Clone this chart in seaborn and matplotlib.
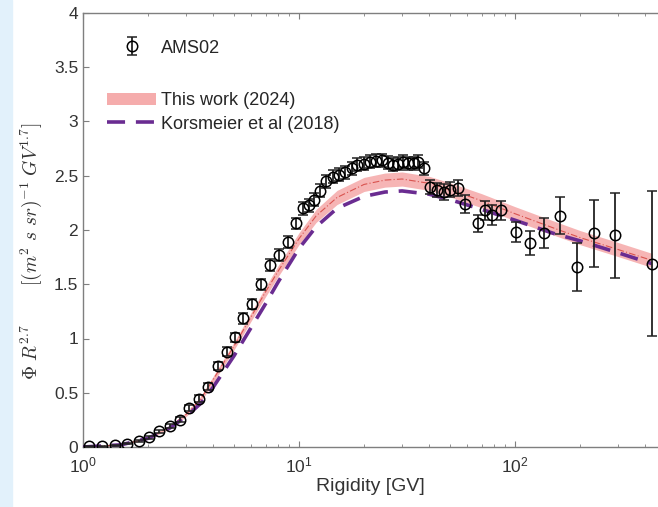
import numpy as np
import matplotlib
matplotlib.use('Agg')
import matplotlib.pyplot as plt
import matplotlib.patches as mpatches
from matplotlib.lines import Line2D
import seaborn as sns
import pandas as pd

# ── AMS02 data points ────────────────────────────────────────────────
ams_rigidity = [1.066, 1.224, 1.406, 1.598, 1.807, 2.02, 2.26, 2.52, 2.80, 3.10,
                3.43, 3.79, 4.20, 4.62, 5.08, 5.53, 6.06, 6.67, 7.34, 8.04,
                8.85, 9.68, 10.44, 11.12, 11.73, 12.5, 13.4, 14.4, 15.3, 16.4,
                17.5, 18.6, 19.9, 21.3, 22.7, 24.2, 25.7, 27.1, 28.6, 30.3,
                32.0, 33.9, 35.7, 37.9, 40.6, 43.5, 46.7, 50.0, 54.5, 58.7,
                67.4, 72.6, 78.3, 86.1, 101, 117, 136, 161, 194, 232,
                290, 431]
ams_flux = [0.005, 0.005, 0.014, 0.032, 0.055, 0.088, 0.143, 0.19, 0.253, 0.36,
            0.447, 0.556, 0.747, 0.88, 1.01, 1.186, 1.318, 1.50, 1.68, 1.77,
            1.89, 2.06, 2.20, 2.23, 2.28, 2.36, 2.45, 2.49, 2.51, 2.53,
            2.57, 2.60, 2.61, 2.63, 2.64, 2.645, 2.62, 2.60, 2.61, 2.63,
            2.615, 2.615, 2.63, 2.57, 2.40, 2.37, 2.35, 2.37, 2.39, 2.24,
            2.06, 2.18, 2.14, 2.18, 1.98, 1.88, 1.97, 2.13, 1.66, 1.97,
            1.95, 1.69]
ams_err = [0.006, 0.006, 0.006, 0.008, 0.01, 0.012, 0.015, 0.018, 0.02, 0.025,
           0.03, 0.035, 0.04, 0.045, 0.045, 0.05, 0.05, 0.05, 0.055, 0.055,
           0.055, 0.055, 0.06, 0.06, 0.06, 0.06, 0.06, 0.06, 0.06, 0.06,
           0.06, 0.06, 0.06, 0.06, 0.06, 0.06, 0.06, 0.06, 0.06, 0.06,
           0.06, 0.06, 0.06, 0.06, 0.065, 0.065, 0.07, 0.07, 0.075, 0.08,
           0.08, 0.085, 0.09, 0.09, 0.095, 0.11, 0.14, 0.17, 0.22, 0.31,
           0.39, 0.67]

# ── Model curves ──────────────────────────────────────────────────────
model_rigidity = [1.0, 1.5, 2.0, 2.5, 3.0, 3.5, 4.0, 5.0, 6.0, 7.0, 8.0, 10.0,
                  12.0, 15.0, 20.0, 25.0, 30.0, 40.0, 50.0, 70.0, 100.0, 150.0,
                  200.0, 300.0, 430.0]
this_work = [0.0, 0.02, 0.08, 0.18, 0.30, 0.44, 0.62, 0.93, 1.20, 1.43, 1.62, 1.92,
             2.13, 2.30, 2.42, 2.46, 2.47, 2.43, 2.37, 2.27, 2.15, 2.02,
             1.93, 1.82, 1.72]
this_work_halfwidth = [0.0, 0.005, 0.01, 0.015, 0.02, 0.025, 0.03, 0.035, 0.04, 0.045, 0.05,
                       0.055, 0.06, 0.065, 0.065, 0.065, 0.065, 0.065, 0.065, 0.065,
                       0.065, 0.065, 0.065, 0.065, 0.065]
korsmeier = [0.0, 0.02, 0.08, 0.17, 0.28, 0.40, 0.55, 0.84, 1.10, 1.32, 1.52, 1.83,
             2.03, 2.20, 2.31, 2.35, 2.36, 2.33, 2.28, 2.19, 2.09, 1.97,
             1.90, 1.79, 1.69]

PINK = '#f4a3a3'
RED = '#d9534f'
PURPLE = '#6a2c91'
GREY = '#7f7f7f'
TEXT = '#333333'

sns.set_style('ticks')
plt.rcParams['font.family'] = ['Liberation Sans', 'DejaVu Sans']
plt.rcParams['mathtext.fontset'] = 'cm'

models = pd.DataFrame({'R': model_rigidity, 'this': this_work,
                       'hw': this_work_halfwidth, 'kors': korsmeier})

fig = plt.figure(figsize=(6.58, 5.07), dpi=100)
fig.patches.append(mpatches.Rectangle((0, 0), 12 / 658, 1, transform=fig.transFigure,
                                      color='#e2f1fb', zorder=0))
ax = fig.add_axes([83 / 658, 60 / 507, 575 / 658, 434 / 507])

# band + centre line for this work
ax.fill_between(models['R'], models['this'] - models['hw'], models['this'] + models['hw'],
                color=PINK, alpha=0.8, lw=0, zorder=1)
sns.lineplot(data=models, x='R', y='this', ax=ax, color=RED, lw=0.8,
             linestyle=(0, (6, 2, 1, 2)), zorder=2)
sns.lineplot(data=models, x='R', y='kors', ax=ax, color=PURPLE, lw=2.6,
             linestyle=(0, (5, 3)), zorder=3)

eb = ax.errorbar(ams_rigidity, ams_flux, yerr=ams_err, fmt='o', mfc='none', mec='black',
                 ms=7.5, mew=1.1, ecolor='#222222', elinewidth=1.3, capsize=3.5,
                 capthick=1.2, zorder=4)

ax.set_xscale('log')
ax.set_xlim(1, 459)
ax.set_ylim(0, 4)
ax.set_yticks(np.arange(0, 4.01, 0.5))
ax.set_yticklabels(['0', '0.5', '1', '1.5', '2', '2.5', '3', '3.5', '4'])

ax.spines['right'].set_visible(False)
for s in ('left', 'bottom', 'top'):
    ax.spines[s].set_color(GREY)
    ax.spines[s].set_linewidth(1.0)
ax.tick_params(axis='both', which='both', direction='in', colors=GREY,
               labelcolor=TEXT, labelsize=12.5)
ax.tick_params(axis='x', which='both', top=True)
ax.tick_params(axis='both', which='major', length=4)
ax.tick_params(axis='x', which='minor', length=2.5)
ax.tick_params(axis='x', which='major', pad=6)

ax.set_xlabel('Rigidity [GV]', fontsize=14, color=TEXT, labelpad=2)
ax.set_ylabel(r'$\Phi\ R^{2.7}\qquad\; [(m^2\ s\ sr)^{-1}\ GV^{1.7}]$',
              fontsize=14, color=TEXT)
ax.yaxis.set_label_coords(-0.068, 0.45)

# ── Legend ────────────────────────────────────────────────────────────
leg1 = ax.legend([eb], ['AMS02'], loc='center left', bbox_to_anchor=(0.042, 0.919),
                 frameon=False, fontsize=13, handlelength=2.7, handletextpad=0.3,
                 borderpad=0, borderaxespad=0)
ax.add_artist(leg1)
band_handle = mpatches.Patch(color=PINK, alpha=0.9, lw=0)
kors_handle = Line2D([], [], color=PURPLE, lw=2.6, linestyle=(0, (5, 3)))
ax.legend([band_handle, kors_handle], ['This work (2024)', 'Korsmeier et al (2018)'],
          loc='center left', bbox_to_anchor=(0.042, 0.771), frameon=False, fontsize=13,
          handlelength=2.7, handletextpad=0.3, labelspacing=0.35,
          borderpad=0, borderaxespad=0)

fig.savefig('out.png', dpi=100)
